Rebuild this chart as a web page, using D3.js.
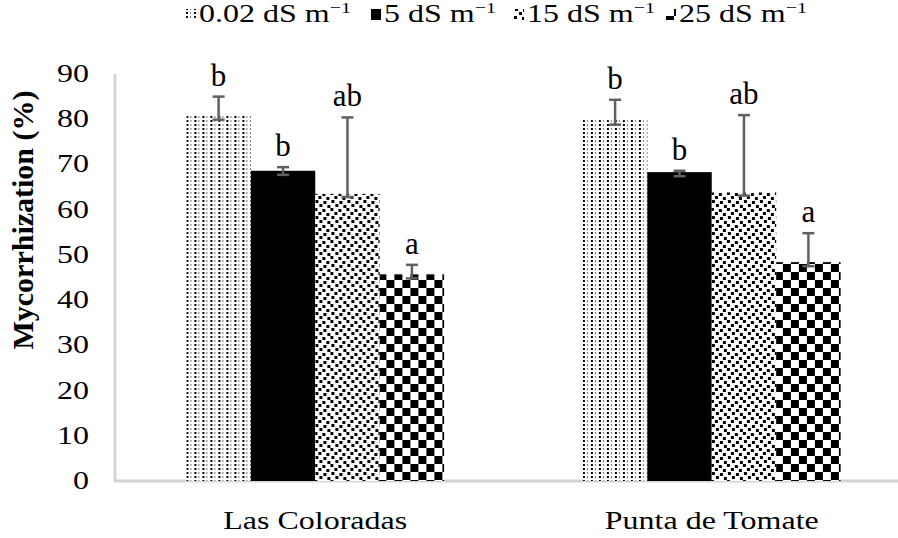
<!DOCTYPE html>
<html lang="en">
  <head>
    <meta charset="utf-8" />
    <title>Mycorrhization</title>
    <script src="https://d3js.org/d3.v7.min.js"></script>
    <style>
      body { margin: 0; background: #fff; }
      text { font-family: "Liberation Serif", "Times New Roman", serif; fill: #000; }
    </style>
  </head>
  <body>
    <svg id="chart" width="898" height="538"></svg>

    <script>
      // data
      const sites = ["Las Coloradas", "Punta de Tomate"];
      const treatments = ["0.02", "5", "15", "25"];
      const lasColoradas = [80.9, 68.6, 63.5, 45.7];
      const puntaTomate = [79.8, 68.3, 63.8, 48.4];
      const errUpLC = [4.1, 0.8, 16.9, 2.1];
      const errUpPT = [4.5, 0.3, 17.1, 6.4];
      const errDown = [1.0, 0.9, 0.7, 0.9];
      const lettersLC = ["b", "b", "ab", "a"];
      const lettersPT = ["b", "b", "ab", "a"];
      const yTicks = [0, 10, 20, 30, 40, 50, 60, 70, 80, 90];

      const rows = [
        { site: sites[0], vals: lasColoradas, up: errUpLC, letters: lettersLC },
        { site: sites[1], vals: puntaTomate, up: errUpPT, letters: lettersPT }
      ];

      const svg = d3.select("#chart");
      const squish = 0.78; // text in the figure is flattened vertically

      const y = d3.scaleLinear().domain([0, 90]).range([481, 74]);
      const x0 = d3.scaleBand().domain(sites).range([117, 910])
        .paddingInner(0.35).paddingOuter(0.175);
      const x1 = d3.scaleBand().domain(treatments).range([0, x0.bandwidth()]);

      // fill patterns
      const defs = svg.append("defs");
      const pDot = defs.append("pattern").attr("id", "p0").attr("patternUnits", "userSpaceOnUse")
        .attr("width", 8).attr("height", 4);
      pDot.append("rect").attr("width", 8).attr("height", 4).attr("fill", "#fff");
      pDot.append("rect").attr("x", 0).attr("width", 2).attr("height", 2).attr("fill", "#000");
      pDot.append("rect").attr("x", 4).attr("width", 1).attr("height", 2).attr("fill", "#777");

      const pSpot = defs.append("pattern").attr("id", "p2").attr("patternUnits", "userSpaceOnUse")
        .attr("width", 16).attr("height", 16);
      pSpot.append("rect").attr("width", 16).attr("height", 16).attr("fill", "#fff");
      [[0, 0], [8, 1], [4, 4], [12, 5], [1, 8], [9, 9], [5, 12], [13, 13]].forEach(function(p) {
        pSpot.append("rect").attr("x", p[0]).attr("y", p[1]).attr("width", 3).attr("height", 3).attr("fill", "#000");
      });

      const pChk = defs.append("pattern").attr("id", "p3").attr("patternUnits", "userSpaceOnUse")
        .attr("width", 16).attr("height", 16);
      pChk.append("rect").attr("width", 16).attr("height", 16).attr("fill", "#fff");
      pChk.append("rect").attr("width", 8).attr("height", 8).attr("fill", "#000");
      pChk.append("rect").attr("x", 8).attr("y", 8).attr("width", 8).attr("height", 8).attr("fill", "#000");

      const fills = ["url(#p0)", "#000", "url(#p2)", "url(#p3)"];

      // axis lines
      svg.append("line").attr("x1", 115).attr("x2", 115).attr("y1", 74).attr("y2", y(0))
        .attr("stroke", "#d4d4d4").attr("stroke-width", 3);
      svg.append("line").attr("x1", 114).attr("x2", 898).attr("y1", y(0)).attr("y2", y(0))
        .attr("stroke", "#d4d4d4").attr("stroke-width", 3);

      // y tick labels
      svg.append("g").selectAll("text").data(yTicks).enter().append("text")
        .attr("transform", d => "translate(89," + (y(d) + 8) + ") scale(1," + squish + ")")
        .attr("text-anchor", "end").style("font-size", "32px")
        .text(d => d);

      // bars, error bars, letters
      const groups = svg.append("g").selectAll("g").data(rows).enter().append("g")
        .attr("transform", d => "translate(" + x0(d.site) + ",0)");

      groups.each(function(row) {
        const g = d3.select(this);
        treatments.forEach(function(t, i) {
          const v = row.vals[i];
          const cx = x1(t) + x1.bandwidth() / 2;
          g.append("rect").attr("x", x1(t)).attr("width", x1.bandwidth())
            .attr("y", y(v)).attr("height", y(0) - y(v)).attr("fill", fills[i]);
          const top = y(v + row.up[i]), bot = y(v - errDown[i]);
          g.append("line").attr("x1", cx).attr("x2", cx).attr("y1", top).attr("y2", bot)
            .attr("stroke", "#606060").attr("stroke-width", 2.5);
          [top, bot].forEach(function(yy) {
            g.append("line").attr("x1", cx - 6).attr("x2", cx + 6).attr("y1", yy).attr("y2", yy)
              .attr("stroke", "#606060").attr("stroke-width", 2.5);
          });
          g.append("text").attr("x", cx).attr("y", top - 11).attr("text-anchor", "middle")
            .style("font-size", "31px").text(row.letters[i]);
        });
      });

      // category labels
      svg.append("g").selectAll("text").data(sites).enter().append("text")
        .attr("transform", d => "translate(" + (x0(d) + x0.bandwidth() / 2) + ",529) scale(1," + squish + ")")
        .attr("text-anchor", "middle").style("font-size", "32px")
        .text(d => d);

      // y axis title
      svg.append("text").attr("transform", "translate(33,220) rotate(-90)")
        .attr("text-anchor", "middle").style("font-size", "30px").style("font-weight", "bold")
        .text("Mycorrhization (%)");

      // legend
      const legX = [186, 371, 514, 666];
      const leg = svg.append("g").selectAll("g").data(treatments).enter().append("g")
        .attr("transform", (d, i) => "translate(" + legX[i] + ",0)");
      leg.append("rect").attr("x", 0).attr("y", 9).attr("width", 10).attr("height", 11)
        .attr("fill", (d, i) => fills[i]);
      const lt = leg.append("text")
        .attr("transform", "translate(13,22) scale(1," + squish + ")")
        .style("font-size", "32px");
      lt.append("tspan").text(d => d + " dS m");
      lt.append("tspan").attr("dy", -12).style("font-size", "20px").text("\u22121");
    </script>
  </body>
</html>
